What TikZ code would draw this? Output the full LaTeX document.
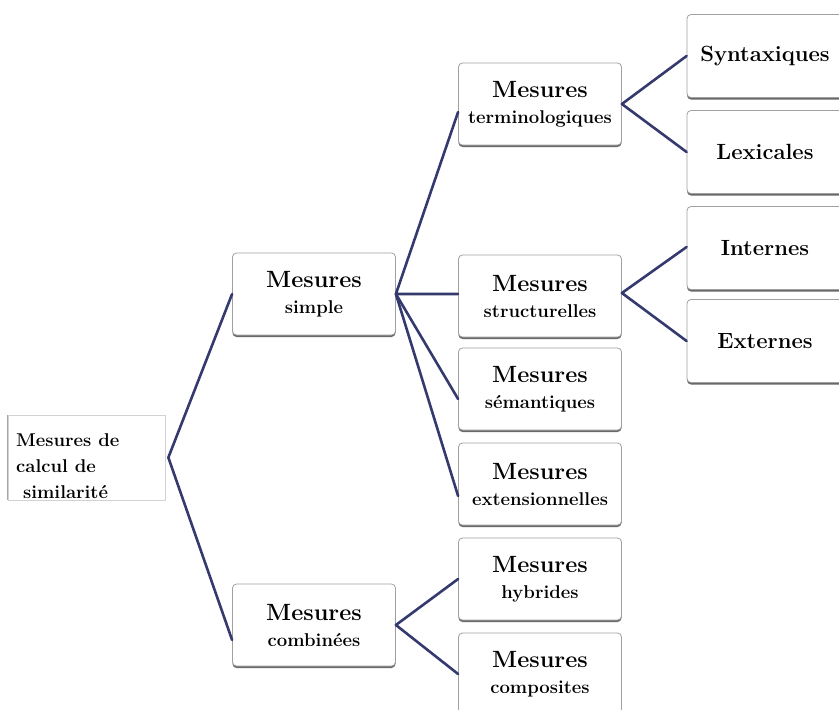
\documentclass[tikz,border=0pt]{standalone}
\usepackage{fontspec}
\usetikzlibrary{shadows,calc}
\definecolor{linkblue}{RGB}{52,58,110}
\definecolor{frame}{RGB}{160,160,160}
\newcommand\headline[1]{{\fontsize{23.5}{26}\selectfont #1}}
\tikzset{
  box/.style={rectangle, rounded corners=4pt, draw=frame, line width=0.8pt,
    fill=white, align=center, inner sep=2pt,
    font=\bfseries\fontsize{18.5}{26}\selectfont,
    drop shadow={shadow xshift=0pt, shadow yshift=-2pt, fill=black!65, opacity=0.9}},
  midbox/.style={box, minimum width=163pt, minimum height=82pt},
  leafbox/.style={box, minimum width=156pt, minimum height=83pt,
    font=\bfseries\fontsize{22}{26}\selectfont},
  link/.style={draw=linkblue, line width=2.6pt, line join=round, line cap=round}
}
\begin{document}
\begin{tikzpicture}[x=1pt,y=-1pt]
\useasboundingbox (0,0) rectangle (839,710);
\clip (0,0) rectangle (839,710);
\fill[white] (0,0) rectangle (839,710);

% root
\node[rectangle, draw=gray!35, line width=0.7pt, minimum width=157pt, minimum height=85pt] (root) at (86.5,457.5) {};
\draw[gray!70, line width=1pt] (root.north west) -- (root.south west);
\node[anchor=west, align=left, inner sep=0pt, font=\bfseries\fontsize{18.5}{26}\selectfont] (roottext) at (16,466) {Mesures de\\calcul de\\\ similarité};

% first level
\node[midbox] (simple) at (314,294) {\headline{Mesures}\\simple};
\node[midbox] (comb) at (314,625) {\headline{Mesures}\\combinées};

% second level
\node[midbox] (term) at (540,104) {\headline{Mesures}\\terminologiques};
\node[midbox] (struct) at (540,296) {\headline{Mesures}\\structurelles};
\node[midbox] (sem) at (540,389) {\headline{Mesures}\\sémantiques};
\node[midbox] (ext) at (540,484) {\headline{Mesures}\\extensionnelles};
\node[midbox] (hyb) at (540,579) {\headline{Mesures}\\hybrides};
\node[midbox] (comp) at (540,674) {\headline{Mesures}\\composites};

% third level
\node[leafbox] (synt) at (765,56) {Syntaxiques};
\node[leafbox] (lex) at (765,152) {Lexicales};
\node[leafbox] (inte) at (765,248) {Internes};
\node[leafbox] (exte) at (765,341) {Externes};

% connectors
\coordinate (j0) at ($(root.east)+(3,0)$);
\draw[link] (simple.west) -- (j0) -- ($(comb.west)+(0,15)$);

\coordinate (j1) at (simple.east);
\draw[link] ($(term.west)+(0,8)$) -- (j1) -- (struct.west |- j1);
\draw[link] (j1) -- ($(sem.west)+(0,10)$);
\draw[link] (j1) -- ($(ext.west)+(0,12)$);

\coordinate (j2) at (comb.east);
\draw[link] (hyb.west) -- (j2) -- (comp.west);

\coordinate (j3) at (term.east);
\draw[link] (synt.west) -- (j3) -- (lex.west);

\coordinate (j4) at ($(struct.east)+(0,-3)$);
\draw[link] ($(inte.west)+(0,-1)$) -- (j4) -- (exte.west);
\end{tikzpicture}
\end{document}
